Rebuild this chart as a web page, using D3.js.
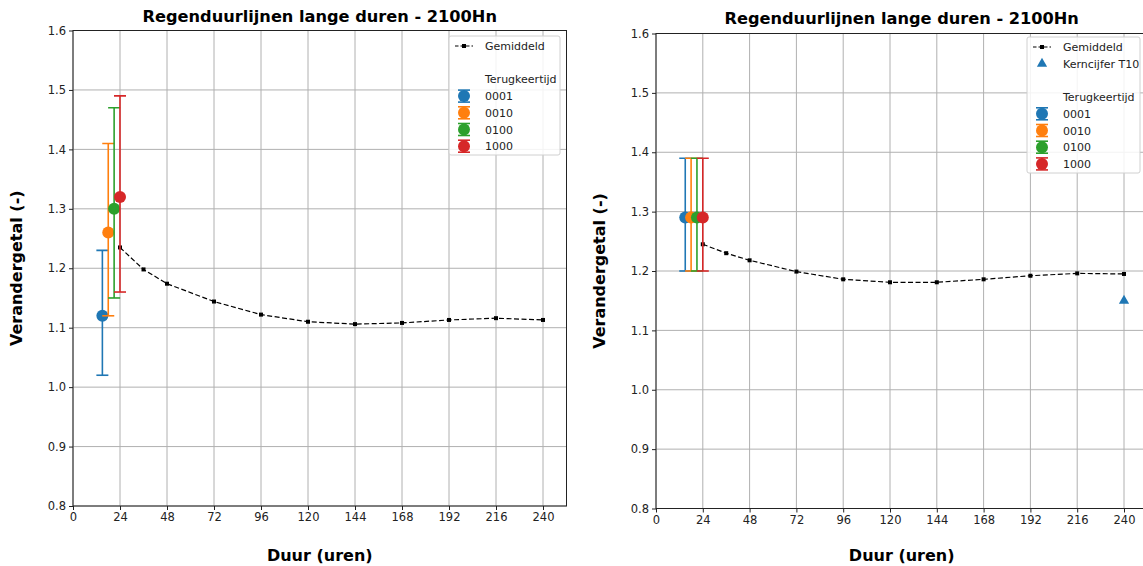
<!DOCTYPE html>
<html><head><meta charset="utf-8">
<script src="https://cdn.jsdelivr.net/npm/d3@7"></script>
<style>
body{margin:0;background:#fff;}
svg{display:block;font-family:"DejaVu Sans",Verdana,sans-serif;}
</style></head>
<body><svg id="c" width="1143" height="566"></svg>
<script>
// ---- data ----
const durations = [24, 36, 48, 72, 96, 120, 144, 168, 192, 216, 240];
const meanLeft  = [1.235, 1.198, 1.174, 1.144, 1.122, 1.110, 1.106, 1.108, 1.113, 1.116, 1.113];
const meanRight = [1.245, 1.230, 1.218, 1.199, 1.186, 1.181, 1.181, 1.186, 1.192, 1.196, 1.195];
const returnPeriods = ["0001", "0010", "0100", "1000"];
const rpX = [15, 18, 21, 24];
const rpLeftVal = [1.12, 1.26, 1.30, 1.32];
const rpLeftLow = [1.02, 1.12, 1.15, 1.16];
const rpLeftHigh = [1.23, 1.41, 1.47, 1.49];
const rpRightVal = [1.29, 1.29, 1.29, 1.29];
const rpRightLow = [1.20, 1.20, 1.20, 1.20];
const rpRightHigh = [1.39, 1.39, 1.39, 1.39];
const kernX = [240];
const kernVal = [1.15];
const xTicks = [0, 24, 48, 72, 96, 120, 144, 168, 192, 216, 240];
const yTicks = [0.8, 0.9, 1.0, 1.1, 1.2, 1.3, 1.4, 1.5, 1.6];
const colors = ["#1f77b4", "#ff7f0e", "#2ca02c", "#d62728"];
const title = "Regenduurlijnen lange duren - 2100Hn";

const svg = d3.select("#c");

function panel(o) {
  const g = svg.append("g");
  const x = d3.scaleLinear().domain([0, 252]).range([o.x0, o.x0 + (o.x240 - o.x0) * 252 / 240]);
  const y = d3.scaleLinear().domain([0.8, 1.6]).range([o.yb, o.yt]);
  const [xl, xr] = x.range();
  // grid
  g.append("g").selectAll("line").data(xTicks).join("line")
    .attr("x1", d => x(d)).attr("x2", d => x(d)).attr("y1", o.yt).attr("y2", o.yb)
    .attr("stroke", "#b0b0b0").attr("stroke-width", 1);
  g.append("g").selectAll("line").data(yTicks).join("line")
    .attr("x1", xl).attr("x2", xr).attr("y1", d => y(d)).attr("y2", d => y(d))
    .attr("stroke", "#b0b0b0").attr("stroke-width", 1);
  // axes
  const ax = g.append("g").attr("transform", `translate(0,${o.yb})`)
    .call(d3.axisBottom(x).tickValues(xTicks).tickSize(4).tickPadding(3).tickFormat(d3.format("d")));
  const ay = g.append("g").attr("transform", `translate(${o.x0},0)`)
    .call(d3.axisLeft(y).tickValues(yTicks).tickSize(4).tickPadding(3).tickFormat(d3.format(".1f")));
  [ax, ay].forEach(a => {
    a.select(".domain").remove();
    a.selectAll("text").attr("font-size", 11.5).attr("fill", "#222").attr("font-family", "DejaVu Sans");
    a.selectAll("line").attr("stroke", "#222");
  });
  // frame
  g.append("rect").attr("x", xl).attr("y", o.yt).attr("width", xr - xl).attr("height", o.yb - o.yt)
    .attr("fill", "none").attr("stroke", "#222").attr("stroke-width", 1);
  // clip
  const clipId = "clip" + o.id;
  svg.append("clipPath").attr("id", clipId).append("rect")
    .attr("x", xl - 10).attr("y", o.yt - 10).attr("width", xr - xl + 20).attr("height", o.yb - o.yt + 20);
  const plot = g.append("g").attr("clip-path", `url(#${clipId})`);
  // mean line
  const line = d3.line().x((d, i) => x(durations[i])).y(d => y(d));
  plot.append("path").datum(o.mean).attr("d", line).attr("fill", "none")
    .attr("stroke", "#000").attr("stroke-width", 1.2).attr("stroke-dasharray", "5,2.5");
  plot.append("g").selectAll("rect").data(o.mean).join("rect")
    .attr("x", (d, i) => x(durations[i]) - 2).attr("y", d => y(d) - 2)
    .attr("width", 4).attr("height", 4).attr("fill", "#000");
  // error bars
  returnPeriods.forEach((rp, i) => {
    const eg = plot.append("g");
    const cx = x(rpX[i]);
    eg.append("line").attr("x1", cx).attr("x2", cx).attr("y1", y(o.low[i])).attr("y2", y(o.high[i]))
      .attr("stroke", colors[i]).attr("stroke-width", 1.6);
    [o.low[i], o.high[i]].forEach(v => eg.append("line")
      .attr("x1", cx - 6).attr("x2", cx + 6).attr("y1", y(v)).attr("y2", y(v))
      .attr("stroke", colors[i]).attr("stroke-width", 1.6));
    eg.append("circle").attr("cx", cx).attr("cy", y(o.val[i])).attr("r", 6).attr("fill", colors[i]);
  });
  // kerncijfer
  if (o.kern) {
    plot.append("g").selectAll("path").data(kernVal).join("path")
      .attr("transform", (d, i) => `translate(${x(kernX[i])},${y(d)})`)
      .attr("d", d3.symbol().type(d3.symbolTriangle).size(45)).attr("fill", "#1f77b4");
  }
  // titles
  g.append("text").attr("x", (o.x0 + xr) / 2).attr("y", o.titleY).attr("text-anchor", "middle")
    .attr("font-size", 16.2).attr("font-weight", "bold").text(title);
  g.append("text").attr("x", (o.x0 + xr) / 2).attr("y", 561).attr("text-anchor", "middle")
    .attr("font-size", 16).attr("font-weight", "bold").text("Duur (uren)");
  g.append("text").attr("transform", `translate(${o.x0 - 51},${(o.yt + o.yb) / 2}) rotate(-90)`)
    .attr("text-anchor", "middle").attr("font-size", 16).attr("font-weight", "bold").text("Verandergetal (-)");
  // legend
  const L = o.legend;
  const lg = g.append("g");
  lg.append("rect").attr("x", L.x).attr("y", L.y).attr("width", L.w).attr("height", L.h).attr("rx", 2)
    .attr("fill", "rgba(255,255,255,0.85)").attr("stroke", "#d0d0d0");
  const sx = L.x + 15, tx = L.x + 36;
  let ry = L.y + 10;
  const rowH = 16.7;
  // Gemiddeld
  lg.append("line").attr("x1", sx - 9).attr("x2", sx + 9).attr("y1", ry).attr("y2", ry)
    .attr("stroke", "#000").attr("stroke-width", 1.2).attr("stroke-dasharray", "3.5,2");
  lg.append("rect").attr("x", sx - 2).attr("y", ry - 2).attr("width", 4).attr("height", 4).attr("fill", "#000");
  lg.append("text").attr("x", tx).attr("y", ry + 4).attr("font-size", 11).attr("fill", "#222").text("Gemiddeld");
  if (o.kern) {
    ry += rowH;
    lg.append("path").attr("transform", `translate(${sx},${ry})`)
      .attr("d", d3.symbol().type(d3.symbolTriangle).size(45)).attr("fill", "#1f77b4");
    lg.append("text").attr("x", tx).attr("y", ry + 4).attr("font-size", 11).attr("fill", "#222").text("Kerncijfer T10");
  }
  ry += rowH * 2;
  lg.append("text").attr("x", tx).attr("y", ry + 4).attr("font-size", 11).attr("fill", "#222").text("Terugkeertijd");
  returnPeriods.forEach((rp, i) => {
    ry += rowH;
    lg.append("line").attr("x1", sx).attr("x2", sx).attr("y1", ry - 6).attr("y2", ry + 6).attr("stroke", colors[i]).attr("stroke-width", 1.6);
    [ry - 6, ry + 6].forEach(v => lg.append("line").attr("x1", sx - 6).attr("x2", sx + 6).attr("y1", v).attr("y2", v)
      .attr("stroke", colors[i]).attr("stroke-width", 1.6));
    lg.append("circle").attr("cx", sx).attr("cy", ry).attr("r", 6).attr("fill", colors[i]);
    lg.append("text").attr("x", tx).attr("y", ry + 4).attr("font-size", 11).attr("fill", "#222").text(rp);
  });
}

panel({id: "L", x0: 73, x240: 543, yt: 30.5, yb: 506, titleY: 22,
  mean: meanLeft, val: rpLeftVal, low: rpLeftLow, high: rpLeftHigh, kern: false,
  legend: {x: 449, y: 36, w: 111, h: 119}});
panel({id: "R", x0: 656, x240: 1124, yt: 33.5, yb: 508.5, titleY: 24,
  mean: meanRight, val: rpRightVal, low: rpRightLow, high: rpRightHigh, kern: true,
  legend: {x: 1027, y: 37, w: 113, h: 136}});
</script>
</body></html>
